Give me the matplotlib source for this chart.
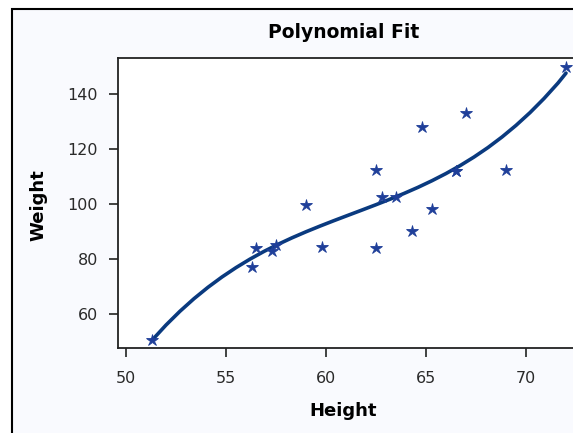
import matplotlib
matplotlib.use('Agg')
import matplotlib.pyplot as plt
from matplotlib.patches import Rectangle

# sashelp.class style data
height = [69.0, 56.5, 65.3, 62.8, 63.5, 57.3, 59.8, 62.5, 62.5, 59.0,
          51.3, 64.3, 56.3, 66.5, 72.0, 64.8, 67.0, 57.5, 66.5]
weight = [112.5, 84.0, 98.0, 102.5, 102.5, 83.0, 84.5, 112.5, 84.0, 99.5,
          50.5, 90.0, 77.0, 112.0, 150.0, 128.0, 133.0, 85.0, 112.0]

# fit curve
fit_x = [51.3, 52.0, 52.7, 53.4, 54.1, 54.8, 55.5, 56.2, 56.9, 57.6,
         58.3, 59.0, 59.7, 60.4, 61.1, 61.8, 62.5, 63.2, 63.9, 64.6,
         65.3, 66.0, 66.7, 67.4, 68.1, 68.8, 69.5, 70.2, 70.9, 71.6, 72.0]
fit_y = [50.41, 55.95, 60.98, 65.55, 69.69, 73.44, 76.84, 79.93, 82.74, 85.31,
         87.68, 89.88, 91.95, 93.94, 95.87, 97.79, 99.73, 101.73, 103.82, 106.05,
         108.46, 111.07, 113.93, 117.07, 120.53, 124.36, 128.58, 133.23, 138.36, 143.99, 147.6]

x_ticks = [50, 55, 60, 65, 70]
y_ticks = [60, 80, 100, 120, 140]

plt.rcParams['font.family'] = ['DejaVu Sans']

fig = plt.figure(figsize=(5.73, 4.33), dpi=100)
fig.patch.set_facecolor('white')

# outer frame with light background
bg = Rectangle((11.5 / 573, -0.1), 1.2, 1.1 - 8.5 / 433, transform=fig.transFigure,
               facecolor='#f9fafe', edgecolor='black', linewidth=1.5, zorder=-10)
fig.add_artist(bg)

ax = fig.add_axes([118 / 573, 85 / 433, 1 - 118 / 573, 290 / 433])
ax.set_zorder(1)
ax.set_facecolor('white')

ax.plot(fit_x, fit_y, color='#0a3a7f', linewidth=2.6, zorder=2, solid_capstyle='round')
ax.plot(height, weight, linestyle='none', marker='*', markersize=9,
        color='#1f3f99', markeredgewidth=0.6, zorder=3)

ax.set_xlim(49.6, 50 + (573 - 126) / 20)
ax.set_ylim(47.6, 153.1)
ax.set_xticks(x_ticks)
ax.set_yticks(y_ticks)

for s in ['left', 'bottom', 'top']:
    ax.spines[s].set_color('#222222')
    ax.spines[s].set_linewidth(1.3)
ax.spines['right'].set_visible(False)

ax.tick_params(direction='out', length=6.5, width=1.2, color='#222222',
               labelsize=11.5, labelcolor='#2a2a2a')
ax.tick_params(axis='x', pad=10)
ax.tick_params(axis='y', pad=8)

ax.set_xlabel('Height', fontsize=13, fontweight='bold', va='center')
ax.xaxis.set_label_coords((343 - 118) / 455, (348 - 411) / 290)
ax.set_ylabel('Weight', fontsize=13, fontweight='bold', va='center')
ax.yaxis.set_label_coords((38.5 - 118) / 455, (348 - 205) / 290)

fig.text(344 / 573, 1 - 33 / 433, 'Polynomial Fit', ha='center', va='center',
         fontsize=13.5, fontweight='bold')

fig.savefig('out.png', dpi=100)
